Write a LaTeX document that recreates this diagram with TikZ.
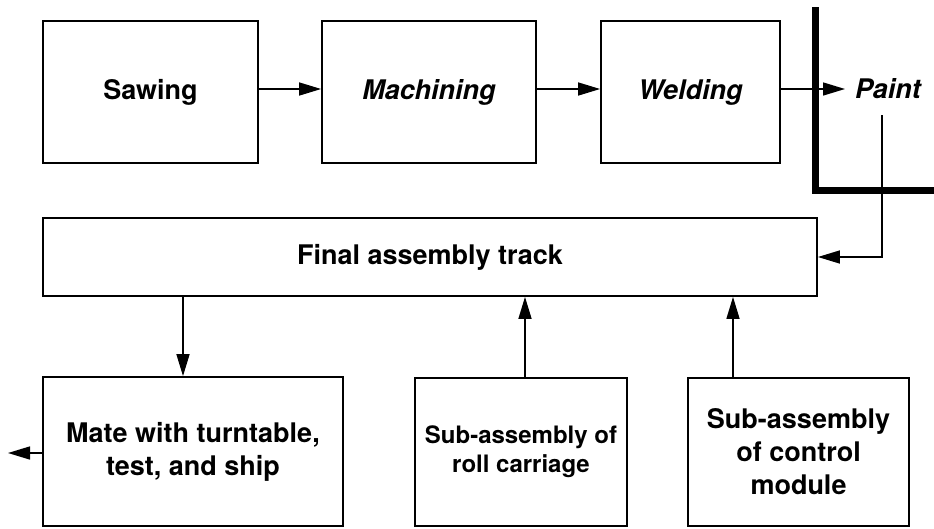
\documentclass[tikz,border=0pt]{standalone}
\usepackage{fontspec}
\setmainfont{TeX Gyre Heros}
\usetikzlibrary{arrows.meta}
\begin{document}
\begin{tikzpicture}[x=1pt,y=-1pt,
  box/.style={draw, line width=1.8pt, minimum height=142pt, inner sep=0pt, align=center,
    font=\fontsize{27}{33}\selectfont\bfseries},
  lbl/.style={inner sep=0pt, font=\fontsize{27}{33}\selectfont\bfseries},
  conn/.style={line width=1.5pt, -{Triangle[length=22pt,width=13pt]}},
  heavy/.style={line width=7pt, line join=miter, line cap=butt}]
\useasboundingbox (0,0) rectangle (934,528);
\node[box, minimum width=215pt] (sawing) at (150.5,92) {Sawing};
\node[box, minimum width=214pt, font=\fontsize{27}{33}\selectfont\bfseries\itshape] (machining) at (429,92) {Machining};
\node[box, minimum width=179pt, font=\fontsize{27}{33}\selectfont\bfseries\itshape] (welding) at (690.5,92) {Welding};
\node[lbl, inner xsep=10pt, font=\fontsize{27}{33}\selectfont\bfseries\itshape] (paint) at (888,89) {Paint};
\node[box, minimum width=774pt, minimum height=78pt] (final) at (430,257) {Final assembly track};
\node[box, minimum width=300pt, minimum height=149pt] (mate) at (193,451.5) {Mate with turntable,\\test, and ship};
\node[box, minimum width=212pt, minimum height=148pt, font=\fontsize{24}{29}\selectfont\bfseries] (roll) at (521,452) {Sub-assembly of\\roll carriage};
\node[box, minimum width=221pt, minimum height=148pt] (control) at (798.5,452) {Sub-assembly\\of control\\module};
% thick boundary
\coordinate (t1) at (815,7);
\coordinate (t2) at (815,190);
\coordinate (t3) at (934,190);
\draw[heavy] (t1) -- (t2) -- (t3);
% connectors
\draw[conn] (sawing.east |- 0,89) -- (machining.west |- 0,89);
\draw[conn] (machining.east |- 0,89) -- (welding.west |- 0,89);
\draw[conn] (welding.east |- paint.west) -- (paint.west);
\coordinate (pd) at (882,115);
\draw[conn] (pd) |- (final.east);
\coordinate (fa) at (183,296);
\draw[conn] (fa) -- (fa |- mate.north);
\coordinate (ra) at (525,378);
\draw[conn] (ra) -- (ra |- final.south);
\coordinate (ca) at (733,378);
\draw[conn] (ca) -- (ca |- final.south);
\coordinate (out) at (8,453);
\draw[conn] (mate.west |- out) -- (out);
\end{tikzpicture}
\end{document}
